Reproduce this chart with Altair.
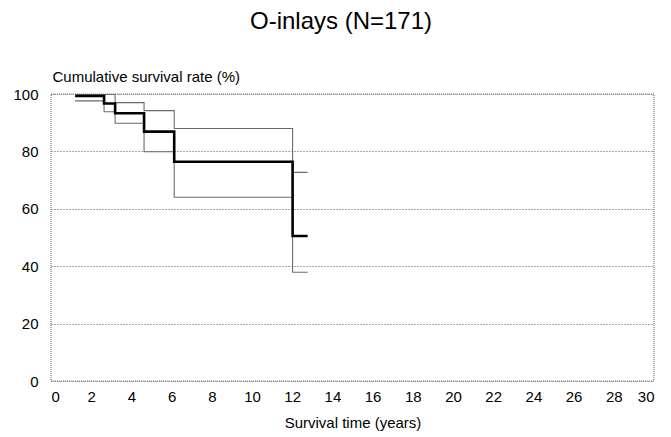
import altair as alt
import pandas as pd

TITLE = "O-inlays (N=171)"

# Step times (years) where the curves change, plus the end of follow-up
times = [1.2, 2.64, 3.19, 4.63, 6.13, 12.02, 12.77]
survival = [99.3, 96.7, 93.3, 86.9, 76.4, 50.5, 50.5]
upper_ci = [99.8, 99.8, 97.0, 94.2, 88.0, 72.7, 72.7]
lower_ci = [97.6, 93.8, 89.8, 79.9, 64.0, 37.9, 37.9]

x_ticks = list(range(0, 31, 2))
y_ticks = [0, 20, 40, 60, 80, 100]

rows = []
for name, vals in [("upper", upper_ci), ("lower", lower_ci), ("survival", survival)]:
    for t, v in zip(times, vals):
        rows.append({"series": name, "time": t, "rate": v})
df = pd.DataFrame(rows)

FONT = "Liberation Sans"
W, H = 603, 287

x = alt.X("time:Q", scale=alt.Scale(domain=[0, 30], nice=False),
          axis=alt.Axis(values=x_ticks, title="Survival time (years)", grid=False,
                        ticks=False, domain=False, labelPadding=8,
                        labelFontSize=15, titleFontSize=15, titleFontWeight="normal",
                        titlePadding=11, labelColor="#000", titleColor="#000",
                        labelFont=FONT, titleFont=FONT))
y = alt.Y("rate:Q", scale=alt.Scale(domain=[0, 100], nice=False),
          axis=alt.Axis(values=y_ticks, title="Cumulative survival rate (%)", grid=True,
                        gridColor="#555", gridDash=[1, 2], gridWidth=1,
                        ticks=False, domain=False, labelPadding=13,
                        labelFontSize=15, titleFontSize=15, titleFontWeight="normal",
                        titleAngle=0, titleAlign="left", titleBaseline="alphabetic",
                        titleX=1, titleY=-13, labelColor="#000", titleColor="#000",
                        labelFont=FONT, titleFont=FONT))

frame = alt.Chart(pd.DataFrame({"f": [0]})).mark_rect(
    filled=False, stroke="#777", strokeWidth=1.2, strokeDash=[1, 1]
).encode(x=alt.value(0), x2=alt.value(W), y=alt.value(0), y2=alt.value(H))

ci = alt.Chart(df).transform_filter(
    alt.FieldOneOfPredicate(field="series", oneOf=["upper", "lower"])
).mark_line(interpolate="step-after", color="#6a6a6a", strokeWidth=1.1).encode(
    x=x, y=y, detail="series:N"
)

main = alt.Chart(df).transform_filter(
    alt.FieldEqualPredicate(field="series", equal="survival")
).mark_line(interpolate="step-after", color="#000", strokeWidth=2.6).encode(
    x=x, y=y
)

title = alt.Chart(pd.DataFrame({"t": [TITLE]})).mark_text(
    font=FONT, fontSize=24, color="#000", align="center", baseline="alphabetic"
).encode(text="t:N", x=alt.value(290), y=alt.value(-65))

chart = alt.layer(frame, ci, main, title).properties(
    width=W, height=H,
    autosize=alt.AutoSizeParams(type="none"),
    padding={"left": 43, "top": 86, "right": 9, "bottom": 56},
    background="white",
).configure_view(stroke=None)

chart.save("out.html", embed_options={"renderer": "svg", "actions": False})
